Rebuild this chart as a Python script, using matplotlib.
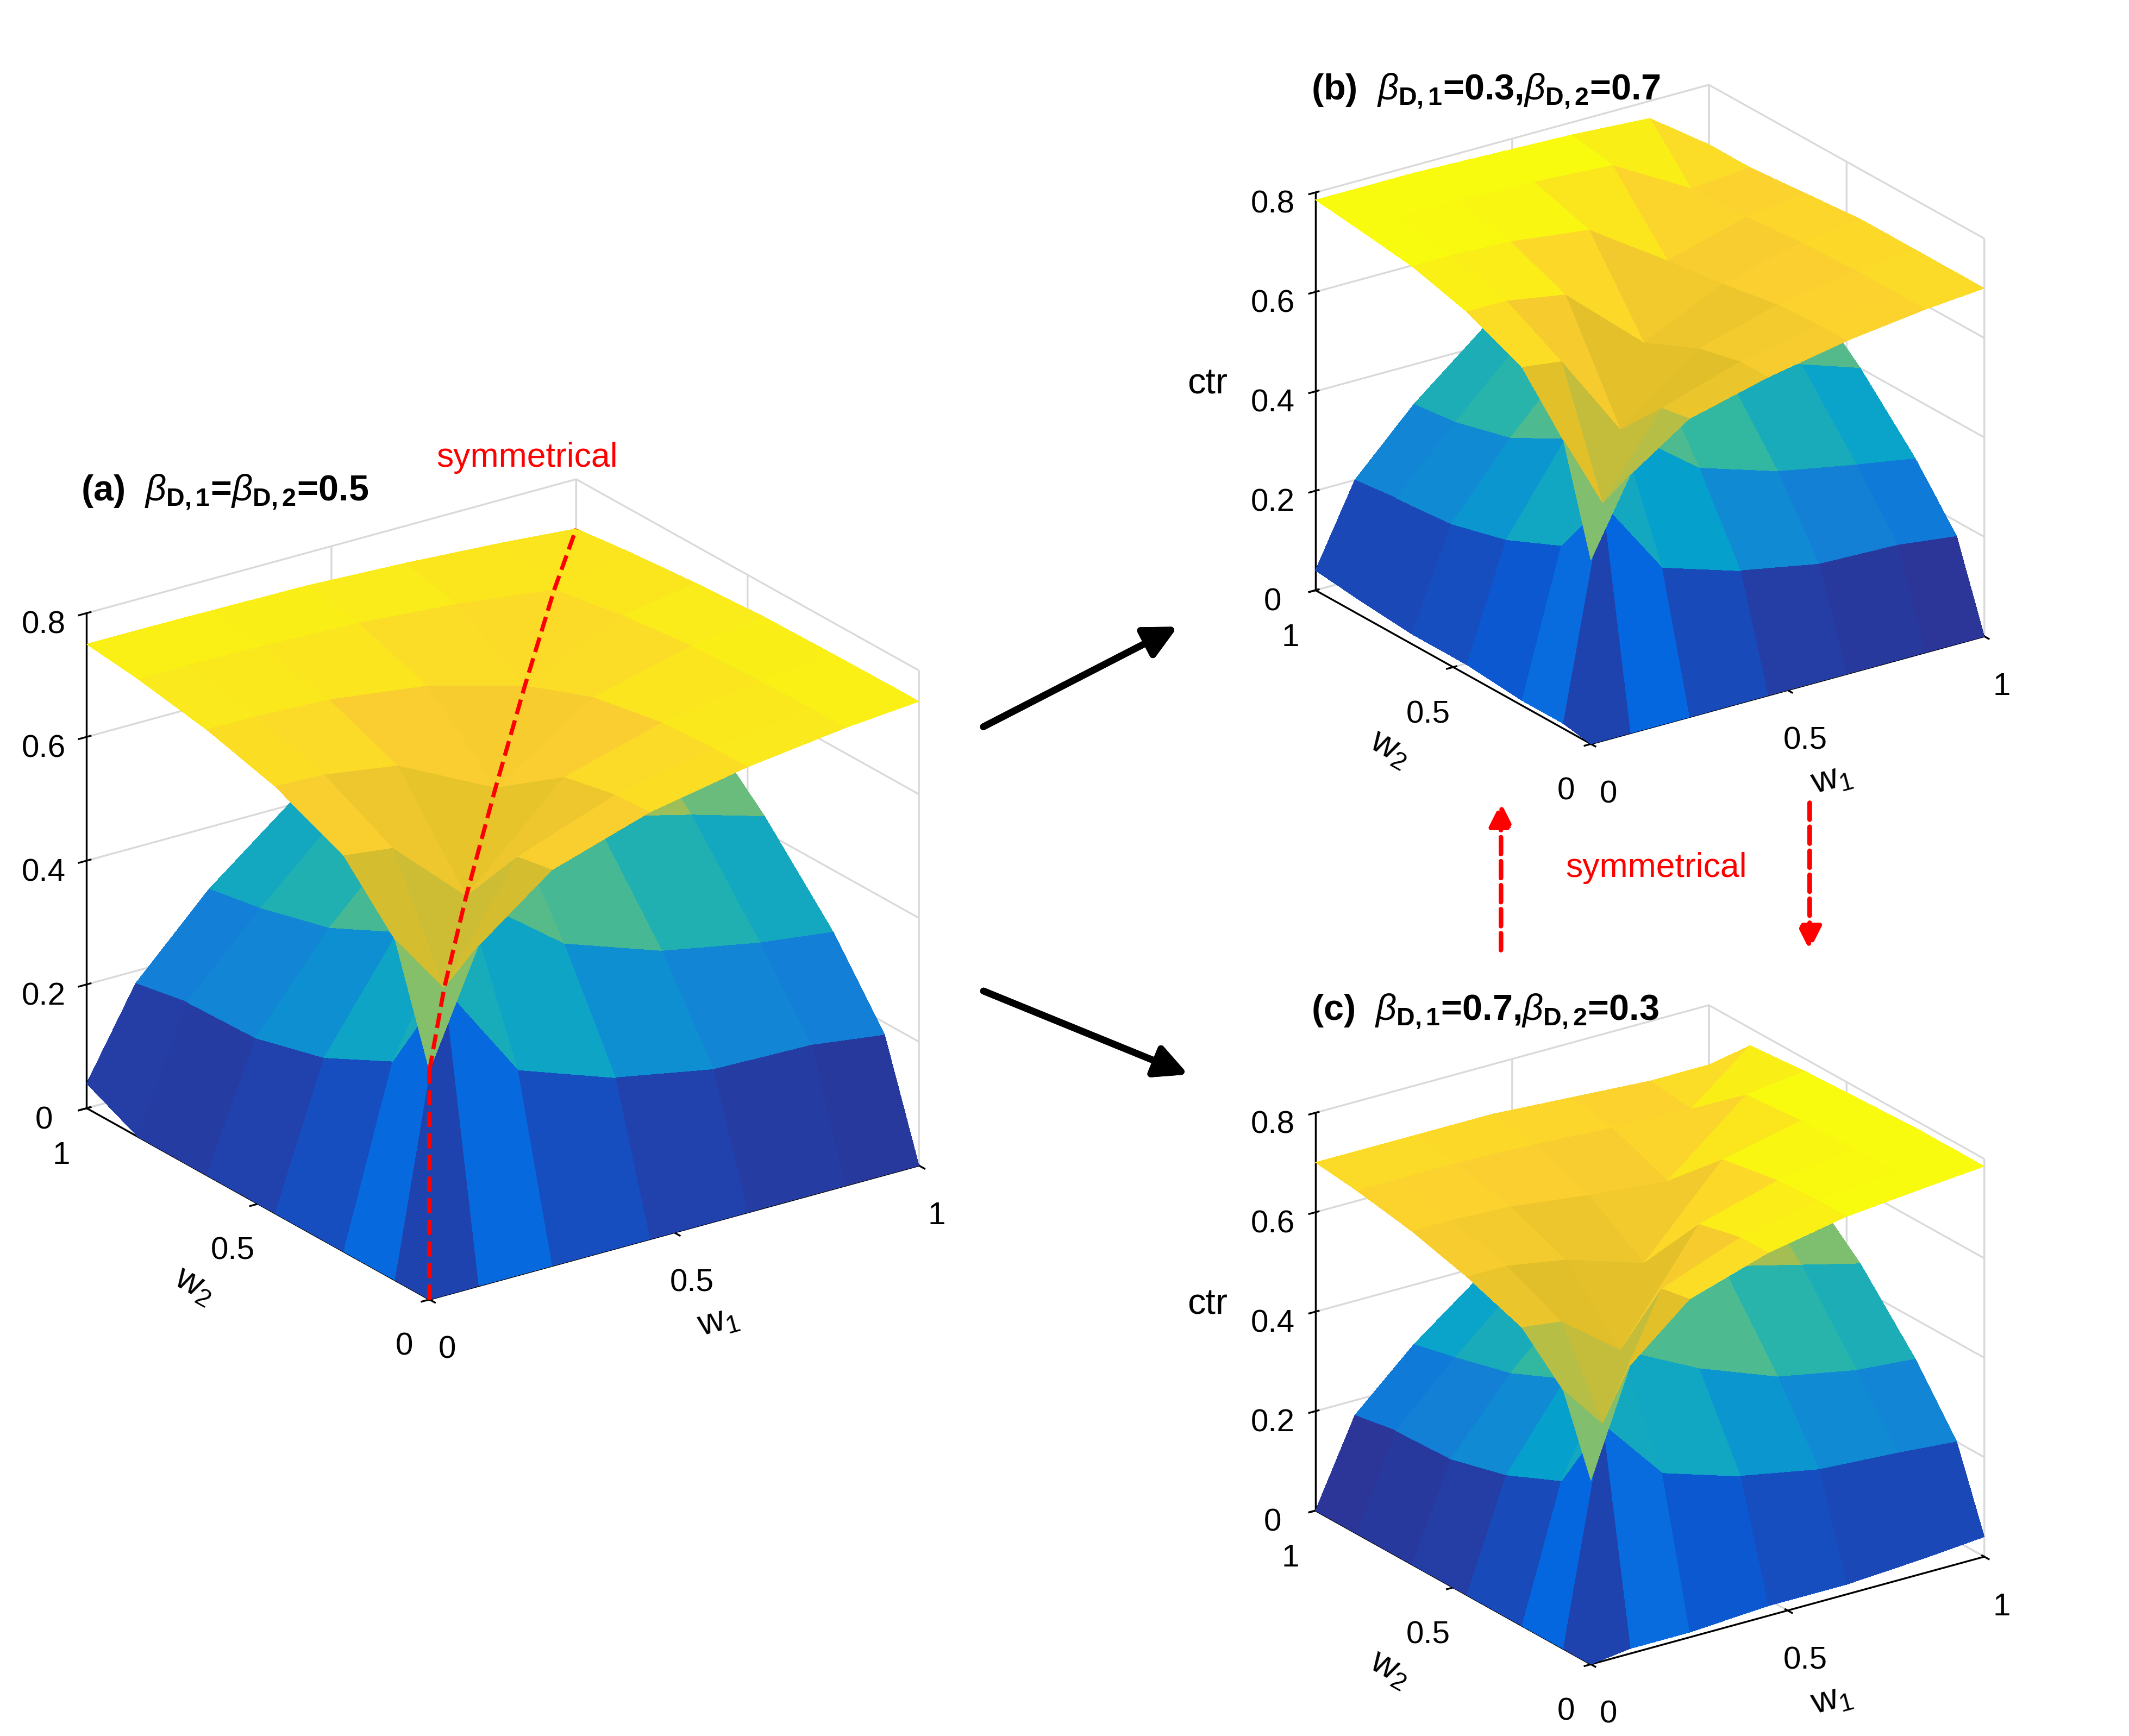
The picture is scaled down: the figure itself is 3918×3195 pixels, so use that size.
import numpy as np
import matplotlib.pyplot as plt
from matplotlib.colors import LinearSegmentedColormap, Normalize

plt.rcParams['font.family'] = ['Liberation Sans', 'DejaVu Sans']
plt.rcParams['mathtext.fontset'] = 'custom'
plt.rcParams['mathtext.rm'] = 'Liberation Sans'
plt.rcParams['mathtext.it'] = 'Liberation Sans:italic'
plt.rcParams['mathtext.bf'] = 'Liberation Sans:bold'

# grid nodes for w1 (columns) and w2 (rows)
w_nodes = [0, 0.1, 0.25, 0.45, 0.65, 0.85, 1.0]

# panel (a): upper sheet (canopy) and lower sheet (roof)
ctr_upper_a = [
    [0.37, 0.55, 0.64, 0.69, 0.72, 0.74, 0.75],
    [0.55, 0.45, 0.63, 0.687, 0.719, 0.74, 0.75],
    [0.64, 0.63, 0.52, 0.669, 0.714, 0.738, 0.749],
    [0.69, 0.687, 0.669, 0.59, 0.693, 0.733, 0.747],
    [0.72, 0.719, 0.714, 0.693, 0.65, 0.72, 0.74],
    [0.74, 0.74, 0.738, 0.733, 0.72, 0.70, 0.73],
    [0.75, 0.75, 0.749, 0.747, 0.74, 0.73, 0.72],
]
ctr_lower_a = [
    [0, 0, 0, 0, 0, 0, 0],
    [0, 0.45, 0.286, 0.23, 0.20, 0.196, 0.18],
    [0, 0.286, 0.52, 0.40, 0.345, 0.315, 0.30],
    [0, 0.23, 0.40, 0.59, 0.50, 0.46, 0.425],
    [0, 0.20, 0.345, 0.50, 0.65, 0.575, 0.53],
    [0, 0.196, 0.315, 0.46, 0.575, 0.70, 0.64],
    [0.04, 0.18, 0.30, 0.425, 0.53, 0.64, 0.72],
]
# panel (b)
ctr_upper_b = [
    [0.37, 0.52, 0.60, 0.64, 0.67, 0.69, 0.70],
    [0.58, 0.43, 0.59, 0.64, 0.67, 0.69, 0.70],
    [0.68, 0.67, 0.50, 0.62, 0.665, 0.69, 0.70],
    [0.73, 0.73, 0.71, 0.57, 0.645, 0.685, 0.70],
    [0.76, 0.76, 0.755, 0.735, 0.63, 0.675, 0.69],
    [0.775, 0.775, 0.775, 0.77, 0.76, 0.67, 0.68],
    [0.785, 0.785, 0.785, 0.78, 0.775, 0.765, 0.68],
]
ctr_lower_b = [
    [0, 0, 0, 0, 0, 0, 0],
    [0.01, 0.43, 0.27, 0.22, 0.19, 0.185, 0.17],
    [0.01, 0.30, 0.50, 0.38, 0.33, 0.30, 0.28],
    [0.02, 0.25, 0.42, 0.57, 0.48, 0.44, 0.40],
    [0.02, 0.22, 0.36, 0.52, 0.63, 0.55, 0.50],
    [0.03, 0.21, 0.33, 0.48, 0.59, 0.67, 0.60],
    [0.04, 0.20, 0.32, 0.45, 0.55, 0.63, 0.68],
]
# panel (c) is (b) with w1 and w2 swapped
ctr_upper_c = np.array(ctr_upper_b).T
ctr_lower_c = np.array(ctr_lower_b).T

parula = LinearSegmentedColormap.from_list("parula", [
    (0.2081, 0.1663, 0.5292), (0.0116, 0.3875, 0.8820), (0.0779, 0.5040, 0.8384),
    (0.0239, 0.6287, 0.8038), (0.1802, 0.7178, 0.6425), (0.5301, 0.7491, 0.4109),
    (0.8634, 0.7406, 0.1596), (0.9892, 0.8136, 0.1885), (0.9763, 0.9831, 0.0538)])
norm_upper = Normalize(0, 0.77)
norm_lower = Normalize(0.07, 0.8)

fig = plt.figure(figsize=(13.06, 10.653), dpi=300)


def panel(rect, upper, lower, title, crease=False):
    ax = fig.add_axes(rect, projection='3d', computed_zorder=False)
    ax.set_proj_type('ortho')
    W1, W2 = np.meshgrid(w_nodes, w_nodes)
    ax.plot_surface(W1, W2, np.array(lower), cmap=parula, norm=norm_lower, shade=False,
                    rstride=1, cstride=1, linewidth=0, antialiased=False)
    ax.plot_surface(W1, W2, np.array(upper), cmap=parula, norm=norm_upper, shade=False,
                    rstride=1, cstride=1, linewidth=0, antialiased=False)
    if crease:
        d = np.diag(np.array(upper))
        ax.plot([0, 0], [0, 0], [0, d[0]], 'r--', lw=1.8)
        ax.plot(w_nodes, w_nodes, d, 'r--', lw=1.8)
        ax.text(0.75, 1.05, 0.86, 'symmetrical', color='red', fontsize=15)
    ax.view_init(elev=23, azim=-125)
    ax.set_xlim(0, 1); ax.set_ylim(0, 1); ax.set_zlim(0, 0.8)
    ax.set_xticks([0, 0.5, 1]); ax.set_yticks([0, 0.5, 1])
    ax.set_zticks([0, 0.2, 0.4, 0.6, 0.8])
    ax.set_xticklabels(['0', '0.5', '1']); ax.set_yticklabels(['0', '0.5', '1'])
    ax.set_zticklabels(['0', '0.2', '0.4', '0.6', '0.8'])
    ax.tick_params(labelsize=14)
    ax.set_xlabel(r'$\mathregular{w_1}$', fontsize=16, labelpad=8)
    ax.set_ylabel(r'$\mathregular{w_2}$', fontsize=16, labelpad=8)
    ax.set_zlabel('ctr', fontsize=16, labelpad=8)
    for a in (ax.xaxis, ax.yaxis, ax.zaxis):
        a.set_pane_color((1, 1, 1, 0))
        a._axinfo['grid']['color'] = (0.85, 0.85, 0.85, 1)
        a._axinfo['grid']['linewidth'] = 0.8
    ax.set_box_aspect((1, 1, 0.9))
    ax.set_title(title, fontsize=16, fontweight='bold', loc='left', y=0.9, x=0.08)
    return ax


panel([0.0, 0.2, 0.46, 0.56], ctr_upper_a, ctr_lower_a,
      r'(a)  $\beta_{\mathbf{D,1}}$=$\beta_{\mathbf{D,2}}$=0.5', crease=True)
panel([0.54, 0.53, 0.46, 0.45], ctr_upper_b, ctr_lower_b,
      r'(b)  $\beta_{\mathbf{D,1}}$=0.3,$\beta_{\mathbf{D,2}}$=0.7')
panel([0.54, 0.0, 0.46, 0.45], ctr_upper_c, ctr_lower_c,
      r'(c)  $\beta_{\mathbf{D,1}}$=0.7,$\beta_{\mathbf{D,2}}$=0.3')

# arrows between panels
arrow = dict(arrowstyle='-|>', color='black', lw=3, mutation_scale=30)
fig.add_artist(plt.annotate('', xy=(0.555, 0.64), xytext=(0.46, 0.58),
                            xycoords='figure fraction', arrowprops=arrow))
fig.add_artist(plt.annotate('', xy=(0.56, 0.38), xytext=(0.46, 0.43),
                            xycoords='figure fraction', arrowprops=arrow))
red = dict(arrowstyle='-|>', color='red', lw=2, ls='--', mutation_scale=22)
fig.add_artist(plt.annotate('', xy=(0.705, 0.54), xytext=(0.705, 0.45),
                            xycoords='figure fraction', arrowprops=red))
fig.add_artist(plt.annotate('', xy=(0.85, 0.45), xytext=(0.85, 0.54),
                            xycoords='figure fraction', arrowprops=red))
fig.text(0.778, 0.495, 'symmetrical', color='red', fontsize=15, ha='center')

fig.savefig('out.png', dpi=300)
